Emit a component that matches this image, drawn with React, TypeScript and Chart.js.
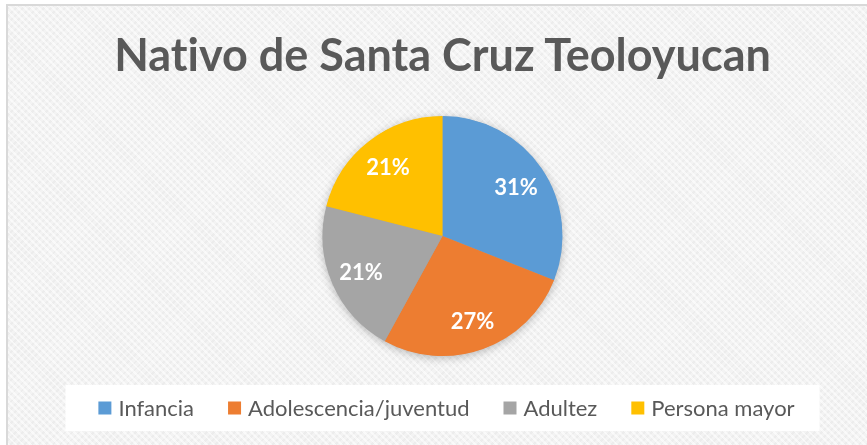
import React, { useEffect, useRef } from "react";
import { Chart, registerables } from "chart.js";

Chart.register(...registerables);

const TITLE = "Nativo de Santa Cruz Teoloyucan";
const categories = ["Infancia", "Adolescencia/juventud", "Adultez", "Persona mayor"];
const values = [31, 27, 21, 21];
const colors = ["#5B9BD5", "#ED7D31", "#A5A5A5", "#FFC000"];

const TEXT_COLOR = "#595959";

const titlePlugin = {
  id: "plainTitle",
  afterDraw(chart: any) {
    const ctx = chart.ctx;
    const area = chart.chartArea;
    const cx = (area.left + area.right) / 2;
    ctx.save();
    try {
      (ctx as any).textRendering = "optimizeSpeed";
      (ctx as any).fontKerning = "normal";
    } catch (e) {}
    ctx.font = "bold 45px Lato, 'Open Sans', sans-serif";
    ctx.fillStyle = TEXT_COLOR;
    ctx.textAlign = "center";
    ctx.textBaseline = "middle";
    ctx.fillText(TITLE, cx, 56);
    ctx.restore();
  },
};

const shadowPlugin = {
  id: "pieShadow",
  beforeDatasetsDraw(chart: any) {
    const meta = chart.getDatasetMeta(0);
    const arc = meta.data[0];
    if (!arc) return;
    const { x, y, outerRadius } = arc.getProps(["x", "y", "outerRadius"], true);
    const ctx = chart.ctx;
    ctx.save();
    ctx.shadowColor = "rgba(0,0,0,0.28)";
    ctx.shadowBlur = 10;
    ctx.shadowOffsetX = 0;
    ctx.shadowOffsetY = 2;
    ctx.fillStyle = "#a0a0a0";
    ctx.beginPath();
    ctx.arc(x, y, outerRadius - 0.5, 0, Math.PI * 2);
    ctx.fill();
    ctx.restore();
  },
};

const labelPlugin = {
  id: "pieLabels",
  afterDatasetsDraw(chart: any) {
    const meta = chart.getDatasetMeta(0);
    const data = chart.data.datasets[0].data as number[];
    const total = data.reduce((a, b) => a + b, 0);
    const ctx = chart.ctx;
    ctx.save();
    ctx.font = "bold 22px Lato, 'Open Sans', sans-serif";
    ctx.fillStyle = "#ffffff";
    ctx.textAlign = "center";
    ctx.textBaseline = "middle";
    meta.data.forEach((arc: any, i: number) => {
      const { x, y, startAngle, endAngle, outerRadius } = arc.getProps(
        ["x", "y", "startAngle", "endAngle", "outerRadius"],
        true
      );
      const mid = (startAngle + endAngle) / 2;
      const d = outerRadius * 0.74;
      const pct = Math.round((data[i] / total) * 100) + "%";
      ctx.fillText(pct, x + Math.cos(mid) * d, y + Math.sin(mid) * d + 2);
    });
    ctx.restore();
  },
};

const legendPlugin = {
  id: "customLegend",
  afterDraw(chart: any) {
    const ctx = chart.ctx;
    const area = chart.chartArea;
    const cx = (area.left + area.right) / 2;
    const boxW = 754;
    const boxTop = 385;
    const boxH = 46;
    ctx.save();
    ctx.fillStyle = "#ffffff";
    ctx.fillRect(cx - boxW / 2, boxTop, boxW, boxH);

    const labels = chart.data.labels as string[];
    const bg = chart.data.datasets[0].backgroundColor as string[];
    ctx.font = "22px Lato, 'Open Sans', sans-serif";
    const sq = 13;
    const gapText = 7;
    const gapItem = 34;
    const widths = labels.map((l) => sq + gapText + ctx.measureText(l).width);
    const total = widths.reduce((a, b) => a + b, 0) + gapItem * (labels.length - 1);
    let x = cx + 4 - total / 2;
    const yMid = 408;
    ctx.textBaseline = "middle";
    ctx.textAlign = "left";
    labels.forEach((l, i) => {
      ctx.fillStyle = bg[i];
      ctx.fillRect(x, yMid - sq / 2, sq, sq);
      ctx.fillStyle = TEXT_COLOR;
      ctx.fillText(l, x + sq + gapText, yMid + 1);
      x += widths[i] + gapItem;
    });
    ctx.restore();
  },
};

export default function App() {
  const canvasRef = useRef<HTMLCanvasElement | null>(null);

  useEffect(() => {
    document.body.style.margin = "0";
    const canvas = canvasRef.current;
    if (!canvas) return;
    const chart = new Chart(canvas, {
      type: "pie",
      data: {
        labels: categories,
        datasets: [
          {
            data: values,
            backgroundColor: colors,
            borderWidth: 0,
            hoverOffset: 0,
          },
        ],
      },
      options: {
        responsive: false,
        animation: false,
        devicePixelRatio: 1,
        layout: { padding: { left: 18, right: 0, top: 116, bottom: 89 } },
        plugins: {
          legend: { display: false },
          tooltip: { enabled: false },
          title: { display: false },
        },
      },
      plugins: [shadowPlugin, labelPlugin, legendPlugin, titlePlugin],
    });
    return () => chart.destroy();
  }, []);

  const texture =
    "repeating-linear-gradient(45deg, rgba(255,255,255,0.55) 0px, rgba(255,255,255,0.55) 2px, rgba(0,0,0,0) 2px, rgba(0,0,0,0) 5px)," +
    "repeating-linear-gradient(-45deg, rgba(230,230,230,0.5) 0px, rgba(230,230,230,0.5) 2px, rgba(0,0,0,0) 2px, rgba(0,0,0,0) 5px)";

  return (
    <div style={{ position: "relative", width: 867, height: 445, background: "#ffffff", overflow: "hidden" }}>
      <div
        style={{
          position: "absolute",
          left: 6,
          top: 4,
          right: 0,
          bottom: 0,
          backgroundColor: "#f3f3f3",
          backgroundImage: texture,
          borderTop: "2px solid #d9d9d9",
          borderLeft: "2px solid #d9d9d9",
        }}
      />
      <canvas
        ref={canvasRef}
        width={867}
        height={445}
        style={{ position: "absolute", left: 0, top: 0, width: 867, height: 445 }}
      />
    </div>
  );
}
